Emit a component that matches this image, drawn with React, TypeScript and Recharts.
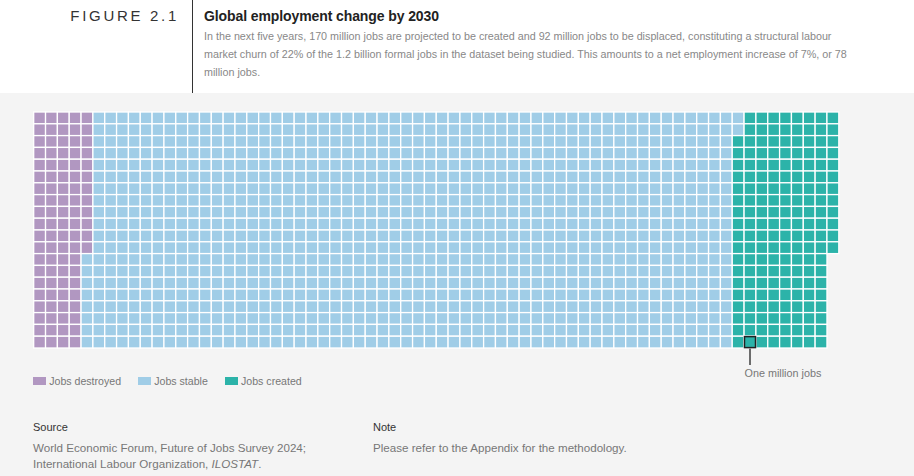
import React from 'react';
import { ScatterChart, Scatter, XAxis, YAxis, Legend, ReferenceLine } from 'recharts';

// one cell = one million jobs, cells are laid out column by column, top to bottom
const CATEGORIES = ['Jobs destroyed', 'Jobs stable', 'Jobs created'];
const CELL_COUNTS = [92, 1090, 170];
const COLORS = ['#b197c1', '#a0cde7', '#2cb3a9'];
const GRID_ROWS = 20;
const GRID_COLS = 68;
const HIGHLIGHT_CELL = [{ x: 60.5, y: 19.5 }];
const HIGHLIGHT_LABEL = 'One million jobs';

const SUBTITLE_LINES = [
    'In the next five years, 170 million jobs are projected to be created and 92 million jobs to be displaced, constituting a structural labour',
    'market churn of 22% of the 1.2 billion formal jobs in the dataset being studied. This amounts to a net employment increase of 7%, or 78',
    'million jobs.',
];

const W = 914;
const H = 476;
const GRID_LEFT = 33.7;
const GRID_RIGHT = 838.8;
const GRID_TOP = 112;
const GRID_BOTTOM = 348;
const CELL_W = (GRID_RIGHT - GRID_LEFT) / GRID_COLS;
const CELL_H = (GRID_BOTTOM - GRID_TOP) / GRID_ROWS;

const SANS = "'Liberation Sans', Arial, Helvetica, sans-serif";
const NARROW = "'Liberation Sans Narrow', 'Arial Narrow', 'Liberation Sans', Arial, sans-serif";

// split the counts into cells of the waffle
const series = (() => {
    let idx = 0;
    return CELL_COUNTS.map((count, i) => {
        const cells = [];
        for (let k = 0; k < count; k++, idx++) {
            const col = Math.floor(idx / GRID_ROWS);
            const row = idx % GRID_ROWS;
            cells.push({ x: col + 0.5, y: row + 0.5 });
        }
        return { name: CATEGORIES[i], color: COLORS[i], cells };
    });
})();

const Cell = (props: any) => {
    const { cx, cy, fill } = props;
    return (
        <rect
            x={cx - CELL_W / 2}
            y={cy - CELL_H / 2}
            width={CELL_W}
            height={CELL_H}
            fill={fill}
            stroke="#ffffff"
            strokeWidth={1.3}
        />
    );
};

const HighlightBox = (props: any) => {
    const { cx, cy } = props;
    return (
        <rect
            x={cx - CELL_W / 2 + 0.4}
            y={cy - CELL_H / 2 + 0.4}
            width={CELL_W - 0.8}
            height={CELL_H - 0.8}
            fill="none"
            stroke="#222"
            strokeWidth={1.5}
        />
    );
};

const LegendContent = (props: any) => {
    const items = [...(props.payload || [])]
        .filter((it: any) => CATEGORIES.includes(it.value))
        .sort((a: any, b: any) => CATEGORIES.indexOf(a.value) - CATEGORIES.indexOf(b.value));
    return (
        <div style={{ display: 'flex', alignItems: 'center', fontFamily: SANS, fontSize: 10.6, color: '#777' }}>
            {items.map((it: any) => (
                <div key={it.value} style={{ display: 'flex', alignItems: 'center', marginRight: 17 }}>
                    <span style={{ width: 12.7, height: 7.5, background: it.color, display: 'inline-block', marginRight: 3.5 }} />
                    {it.value}
                </div>
            ))}
        </div>
    );
};

const AnnotationLabel = (props: any) => {
    const vb = props.viewBox || {};
    const x = vb.x ?? vb.x1 ?? 0;
    const y = vb.y ?? Math.min(vb.y1 ?? 0, vb.y2 ?? 0);
    const h = vb.height ?? Math.abs((vb.y2 ?? 0) - (vb.y1 ?? 0));
    return (
        <text x={x - 5.5} y={y + h + 12} fontFamily={SANS} fontSize={10.8} fill="#777">
            {HIGHLIGHT_LABEL}
        </text>
    );
};

export default function App() {
    return (
        <div style={{ position: 'relative', width: W, height: H, background: '#f4f4f4', overflow: 'hidden' }}>
            <style>{'body{margin:0}'}</style>

            {/* header */}
            <div style={{ position: 'absolute', left: 0, top: 0, width: W, height: 93, background: '#ffffff' }} />
            <div style={{ position: 'absolute', left: 192, top: 0, width: 1, height: 93, background: '#333' }} />
            <div
                style={{
                    position: 'absolute', right: W - 179, top: 6, fontFamily: NARROW, fontSize: 15,
                    letterSpacing: 2.7, color: '#333', lineHeight: '20px', whiteSpace: 'nowrap',
                }}
            >
                FIGURE 2.1
            </div>
            <div
                style={{
                    position: 'absolute', left: 204, top: 6, fontFamily: SANS, fontSize: 14, fontWeight: 700,
                    color: '#222', lineHeight: '20px', whiteSpace: 'nowrap', letterSpacing: -0.1,
                }}
            >
                Global employment change by 2030
            </div>
            <div
                style={{
                    position: 'absolute', left: 204, top: 27, fontFamily: NARROW, fontSize: 10.75,
                    color: '#888', lineHeight: '18px', whiteSpace: 'nowrap',
                }}
            >
                {SUBTITLE_LINES.map((l) => (
                    <div key={l}>{l}</div>
                ))}
            </div>

            {/* waffle */}
            <div style={{ position: 'absolute', left: 0, top: 0 }}>
                <ScatterChart
                    width={W}
                    height={H}
                    margin={{ top: GRID_TOP, left: GRID_LEFT, right: W - GRID_RIGHT, bottom: H - GRID_BOTTOM }}
                >
                    <XAxis type="number" dataKey="x" domain={[0, GRID_COLS]} hide />
                    <YAxis type="number" dataKey="y" domain={[0, GRID_ROWS]} reversed hide />
                    {series.map((s) => (
                        <Scatter
                            key={s.name}
                            name={s.name}
                            data={s.cells}
                            fill={s.color}
                            shape={Cell}
                            isAnimationActive={false}
                        />
                    ))}
                    <Scatter
                        name={HIGHLIGHT_LABEL}
                        data={HIGHLIGHT_CELL}
                        shape={HighlightBox}
                        legendType="none"
                        isAnimationActive={false}
                    />
                    <ReferenceLine
                        segment={[
                            { x: HIGHLIGHT_CELL[0].x, y: HIGHLIGHT_CELL[0].y + 0.5 },
                            { x: HIGHLIGHT_CELL[0].x, y: HIGHLIGHT_CELL[0].y + 1.95 },
                        ]}
                        stroke="#222"
                        strokeWidth={1.3}
                        ifOverflow="visible"
                        label={<AnnotationLabel />}
                    />
                    <Legend
                        layout="horizontal"
                        verticalAlign="middle"
                        align="center"
                        content={<LegendContent />}
                        wrapperStyle={{ left: 33, top: 375, width: 'auto' }}
                    />
                </ScatterChart>
            </div>

            {/* footer */}
            <div style={{ position: 'absolute', left: 33, top: 419, fontFamily: SANS, fontSize: 11, color: '#333', lineHeight: '16px' }}>
                Source
            </div>
            <div style={{ position: 'absolute', left: 33, top: 440, fontFamily: SANS, fontSize: 11.6, color: '#777', lineHeight: '16px', whiteSpace: 'nowrap' }}>
                <div>World Economic Forum, Future of Jobs Survey 2024;</div>
                <div>
                    International Labour Organization, <i>ILOSTAT</i>.
                </div>
            </div>
            <div style={{ position: 'absolute', left: 373, top: 419, fontFamily: SANS, fontSize: 11, color: '#333', lineHeight: '16px' }}>
                Note
            </div>
            <div style={{ position: 'absolute', left: 373, top: 440, fontFamily: SANS, fontSize: 11.6, color: '#777', lineHeight: '16px', whiteSpace: 'nowrap' }}>
                Please refer to the Appendix for the methodology.
            </div>
        </div>
    );
}
